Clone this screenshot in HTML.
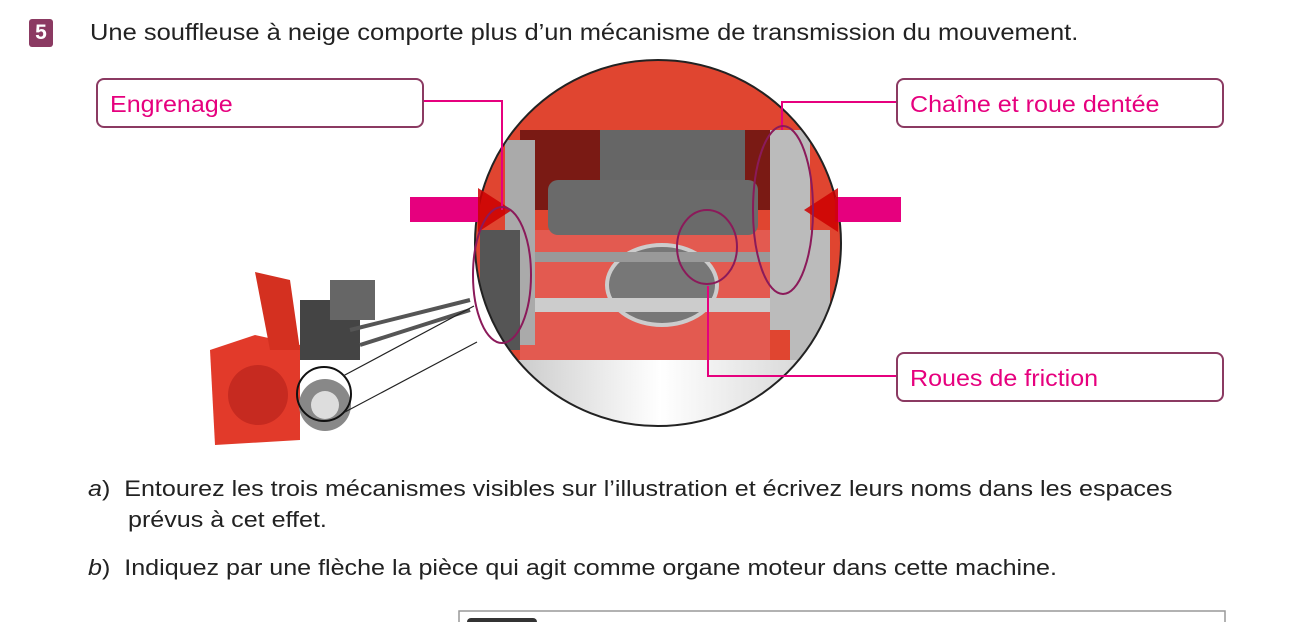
<!DOCTYPE html>
<html><head><meta charset="utf-8"><style>
body{margin:0;width:1303px;height:622px;background:#fff;overflow:hidden;font-family:"Liberation Sans",sans-serif;position:relative}
.t{position:absolute;color:#222;font-size:22px;white-space:nowrap;transform-origin:0 0;transform:scaleX(1.14)}
.box{position:absolute;border:2px solid #8b3a62;border-radius:8px;box-sizing:border-box;height:50px;background:#fff}
.box span{position:absolute;left:12px;top:11px;color:#e6007e;font-size:23px;white-space:nowrap;transform-origin:0 0;transform:scaleX(1.09)}
</style></head><body>
<div style="position:absolute;left:29px;top:19px;width:24px;height:28px;background:#8b3a62;border-radius:3px;color:#fff;font-weight:bold;font-size:21px;text-align:center;line-height:28px">5</div>
<div class="t" style="left:90px;top:19px;font-size:23px;transform:scaleX(1.108)">Une souffleuse à neige comporte plus d’un mécanisme de transmission du mouvement.</div>
<svg width="1303" height="622" style="position:absolute;left:0;top:0">
<defs>
<clipPath id="c"><circle cx="658" cy="243" r="183"/></clipPath>
<linearGradient id="g" x1="0" y1="0" x2="1" y2="0"><stop offset="0" stop-color="#bbb"/><stop offset=".5" stop-color="#fff"/><stop offset="1" stop-color="#ccc"/></linearGradient>
</defs>
<g clip-path="url(#c)">
<rect x="470" y="55" width="380" height="380" fill="url(#g)"/>
<rect x="470" y="55" width="380" height="305" fill="#e04530"/>
<rect x="520" y="130" width="250" height="80" fill="#7a1a14"/>
<rect x="520" y="230" width="250" height="130" fill="#e35a50"/>
<ellipse cx="662" cy="285" rx="55" ry="40" fill="#777" stroke="#ccc" stroke-width="4"/>
<rect x="600" y="130" width="145" height="70" fill="#666"/>
<rect x="548" y="180" width="210" height="55" rx="10" fill="#6a6a6a"/>
<rect x="525" y="252" width="250" height="10" fill="#999"/>
<rect x="520" y="298" width="280" height="14" fill="#ccc"/>
<rect x="505" y="140" width="30" height="205" fill="#aaa"/>
<rect x="770" y="130" width="40" height="200" fill="#bbb"/>
<rect x="480" y="230" width="40" height="120" fill="#555"/>
<rect x="790" y="230" width="40" height="130" fill="#bbb"/>
</g>
<circle cx="658" cy="243" r="183" fill="none" stroke="#222" stroke-width="2"/>
<rect x="410" y="197" width="70" height="25" fill="#e6007e"/>
<polygon points="478,188 512,210 478,232" fill="#c00" opacity=".85"/>
<rect x="835" y="197" width="66" height="25" fill="#e6007e"/>
<polygon points="838,188 804,210 838,232" fill="#c00" opacity=".85"/>
<g fill="none" stroke="#e6007e" stroke-width="2">
<polyline points="424,101 502,101 502,210"/>
<polyline points="896,102 782,102 782,130"/>
<polyline points="896,376 708,376 708,286"/>
</g>
<g fill="none" stroke="#8b1a5a" stroke-width="2">
<ellipse cx="502" cy="275" rx="29" ry="68"/>
<ellipse cx="707" cy="247" rx="30" ry="37"/>
<ellipse cx="783" cy="210" rx="30" ry="84"/>
</g>
<polygon points="210,350 255,335 300,345 300,440 215,445" fill="#e23a2a"/>
<circle cx="258" cy="395" r="30" fill="#c62a20"/>
<polygon points="255,272 290,280 300,350 270,350" fill="#d43020"/>
<rect x="300" y="300" width="60" height="60" fill="#444"/>
<rect x="330" y="280" width="45" height="40" fill="#666"/>
<path d="M350,330 L470,300 M360,345 L470,310" stroke="#555" stroke-width="4"/>
<circle cx="325" cy="405" r="26" fill="#888"/>
<circle cx="325" cy="405" r="14" fill="#ddd"/>
<circle cx="324" cy="394" r="27" fill="none" stroke="#111" stroke-width="2"/>
<path d="M343,376 L474,306 M345,412 L477,342" stroke="#222" stroke-width="1.2"/>
<rect x="459" y="611" width="766" height="12" fill="none" stroke="#999" stroke-width="1.5"/>
<rect x="467" y="618" width="70" height="8" rx="4" fill="#333"/>
</svg>
<div class="box" style="left:96px;top:78px;width:328px"><span>Engrenage</span></div>
<div class="box" style="left:896px;top:78px;width:328px"><span>Chaîne et roue dentée</span></div>
<div class="box" style="left:896px;top:352px;width:328px"><span>Roues de friction</span></div>
<div class="t" style="left:88px;top:476px"><i>a</i>)&nbsp; Entourez les trois mécanismes visibles sur l’illustration et écrivez leurs noms dans les espaces</div>
<div class="t" style="left:128px;top:507px">prévus à cet effet.</div>
<div class="t" style="left:88px;top:555px"><i>b</i>)&nbsp; Indiquez par une flèche la pièce qui agit comme organe moteur dans cette machine.</div>
</body></html>
